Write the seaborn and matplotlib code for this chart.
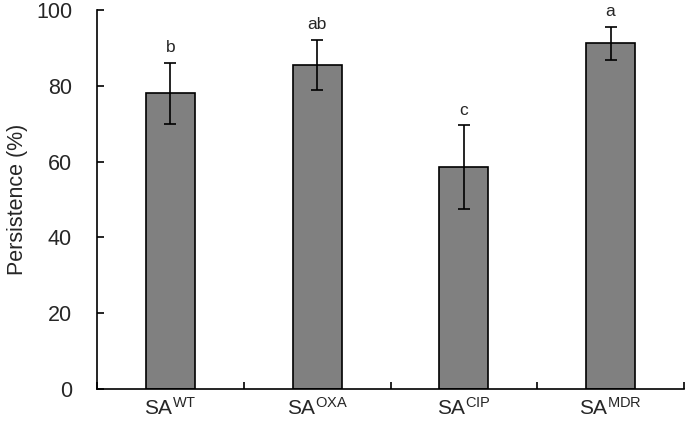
import matplotlib
matplotlib.use('Agg')
import numpy as np
import pandas as pd
import seaborn as sns
import matplotlib.pyplot as plt

# values
strains = ['WT', 'OXA', 'CIP', 'MDR']
persistence = [78.0, 85.6, 58.6, 91.2]
err = [8.0, 6.6, 11.0, 4.3]
letters = ['b', 'ab', 'c', 'a']

df = pd.DataFrame({'strain': strains, 'persistence': persistence})

sns.set_style('ticks')
plt.rcParams['font.family'] = ['Liberation Sans', 'DejaVu Sans']
plt.rcParams['mathtext.fontset'] = 'custom'
plt.rcParams['mathtext.rm'] = 'Liberation Sans'
plt.rcParams['mathtext.default'] = 'rm'

fig = plt.figure(figsize=(6.85, 4.24), dpi=100)
ax = fig.add_axes([97 / 685, 35 / 424, 587 / 685, 379 / 424])

sns.barplot(data=df, x='strain', y='persistence', color='#808080',
            width=0.333, edgecolor='black', linewidth=1.2, saturation=1,
            errorbar=None, ax=ax)
ax.errorbar(np.arange(len(strains)), persistence, yerr=err, fmt='none',
            ecolor='black', elinewidth=1.2, capsize=4, capthick=1.2)

for i, (v, e, l) in enumerate(zip(persistence, err, letters)):
    ax.text(i, v + e + 2.0, l, ha='center', va='bottom', fontsize=12.5)

ax.set_xlim(-0.5, len(strains) - 0.5)
ax.set_ylim(0, 100)
ax.set_yticks(range(0, 101, 20))
ax.set_xticks(np.arange(-0.5, len(strains), 1.0))
ax.set_xticklabels([])
ax.set_xticks(np.arange(len(strains)), minor=True)
ax.set_xticklabels([r'$\mathrm{SA}^{\mathrm{%s}}$' % s for s in strains], minor=True)
ax.tick_params(axis='x', which='minor', length=0, labelsize=15, pad=6)
ax.tick_params(axis='both', which='major', direction='in', length=5, width=1.2, labelsize=15.5, color='black')
ax.tick_params(axis='y', pad=18)
ax.set_xlabel('')
ax.set_ylabel('Persistence (%)', fontsize=15.5, labelpad=6)
sns.despine(ax=ax)
for sp in ['left', 'bottom']:
    ax.spines[sp].set_linewidth(1.2)
    ax.spines[sp].set_color('black')

fig.savefig('out.png', dpi=100)
